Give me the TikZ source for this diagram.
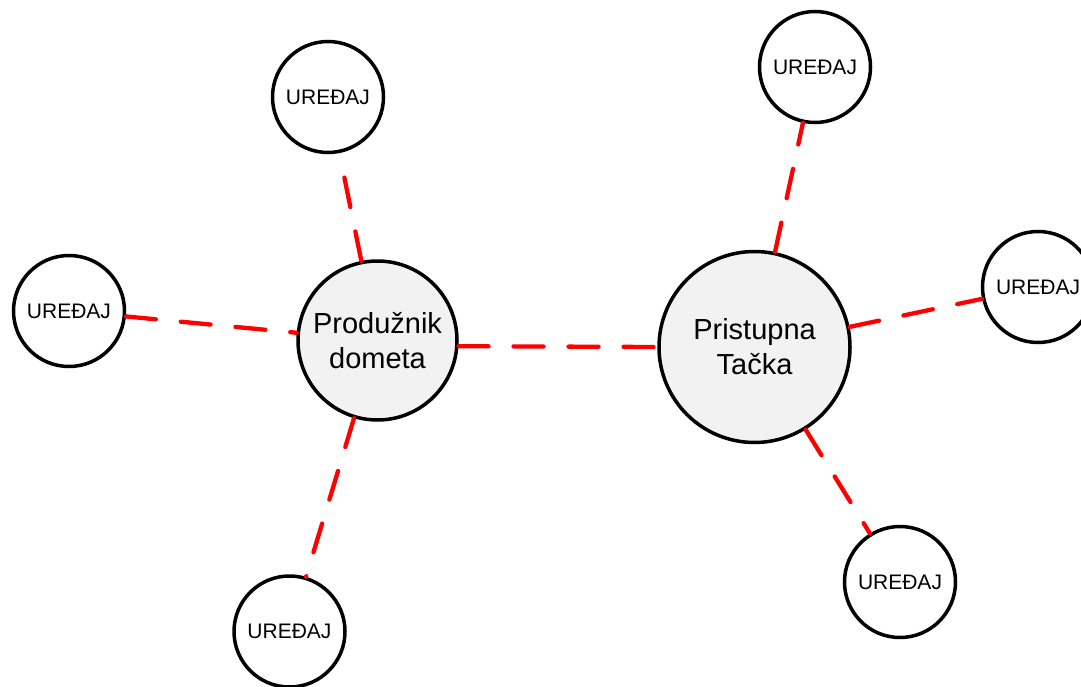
\documentclass[tikz,border=0pt]{standalone}
\usepackage{fontspec}
\setmainfont{Liberation Sans}
\definecolor{hubgray}{HTML}{F2F2F2}
\begin{document}
\begin{tikzpicture}[x=1pt,y=-1pt,
  dev/.style={circle,draw=black,line width=3.5pt,fill=white,minimum size=111pt,inner sep=0pt,font=\fontsize{21}{25}\selectfont},
  hub/.style={circle,draw=black,line width=3.5pt,fill=hubgray,inner sep=0pt,align=center,font=\fontsize{29}{35}\selectfont},
  link/.style={draw=red,line width=4.3pt,line cap=round,dash pattern=on 30pt off 25pt}]
\useasboundingbox (0,0) rectangle (1081,687);
\node[hub,minimum size=159pt] (prod) at (377.5,340.5) {Produžnik\\dometa};
\node[hub,minimum size=191pt] (pt) at (754.5,347) {Pristupna\\Tačka};
\node[dev] (d1) at (328,97) {UREĐAJ};
\node[dev] (d2) at (69,311) {UREĐAJ};
\node[dev] (d3) at (289.5,631.5) {UREĐAJ};
\node[dev] (d4) at (815,67) {UREĐAJ};
\node[dev] (d5) at (1038,287) {UREĐAJ};
\node[dev] (d6) at (900,582) {UREĐAJ};
\draw[link] (prod) -- (d1);
\draw[link] (d2) -- (prod);
\draw[link] (prod) -- (d3);
\draw[link] (prod.-4) -- (pt.west);
\draw[link] (pt) -- (d4);
\draw[link] (pt) -- (d5);
\draw[link] (pt) -- (d6);
\end{tikzpicture}
\end{document}
